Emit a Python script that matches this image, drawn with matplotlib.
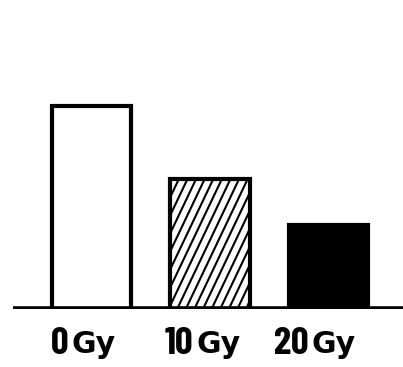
import matplotlib
matplotlib.use("Agg")
import matplotlib.pyplot as plt
import numpy as np

categories = ["0", "10", "20"]
unit_label = "Gy"
values = [203, 130, 84.5]
fills = ["white", "hatch", "black"]

W, H = 403, 367
fig = plt.figure(figsize=(W / 100, H / 100), dpi=100)
base_px = 309
left_px = 12.7
ax = fig.add_axes([left_px / W, (H - base_px) / H, 1 - left_px / W, base_px / H])
ax.set_xlim(-0.665, 2.629)
ax.set_ylim(0, 309)
ax.axis("off")

x = np.arange(len(categories))
bars = []
for xi, v, f in zip(x, values, fills):
    fc = "black" if f == "black" else "white"
    b = ax.bar(xi, v, width=0.67, facecolor=fc, edgecolor="black",
               linewidth=3.0, zorder=3)[0]
    bars.append((b, f))

ax.axhline(0, color="black", linewidth=4.0, zorder=5, solid_capstyle="butt")

# custom steep hatching clipped to the hatched bar
fig.canvas.draw()
inv = ax.transData.inverted()
for b, f in bars:
    if f != "hatch":
        continue
    x0, x1 = b.get_x(), b.get_x() + b.get_width()
    p0 = ax.transData.transform((x0, 0))
    p1 = ax.transData.transform((x1, b.get_height()))
    w_px = p1[0] - p0[0]
    h_px = p1[1] - p0[1]
    slope = 2.1
    spacing = 8.6
    offs = np.arange(-h_px / slope, w_px + spacing, spacing)
    for o in offs:
        a = inv.transform((p0[0] + o, p0[1]))
        c = inv.transform((p0[0] + o + h_px / slope, p1[1]))
        ln, = ax.plot([a[0], c[0]], [a[1], c[1]], color="black",
                      linewidth=1.5, zorder=4, solid_capstyle="butt")
        ln.set_clip_path(b)

# label offsets (pixels from bar centre): right edge of number, left edge of unit
num_dx = [-23.5, -17.3, -19.5]
unit_dx = [-19.5, -13.3, -16.5]
for xi, cat, ndx, udx in zip(x, categories, num_dx, unit_dx):
    ax.annotate(cat, xy=(xi, 0), xycoords="data", xytext=(ndx, -45),
                textcoords="offset pixels", ha="right", va="baseline",
                fontsize=28, fontweight="bold",
                family=["Barlow Condensed", "DejaVu Sans"])
    ax.annotate(unit_label, xy=(xi, 0), xycoords="data", xytext=(udx, -44),
                textcoords="offset pixels", ha="left", va="baseline",
                fontsize=21.5, fontweight="bold", family="DejaVu Sans")

fig.savefig("out.png", dpi=100)
